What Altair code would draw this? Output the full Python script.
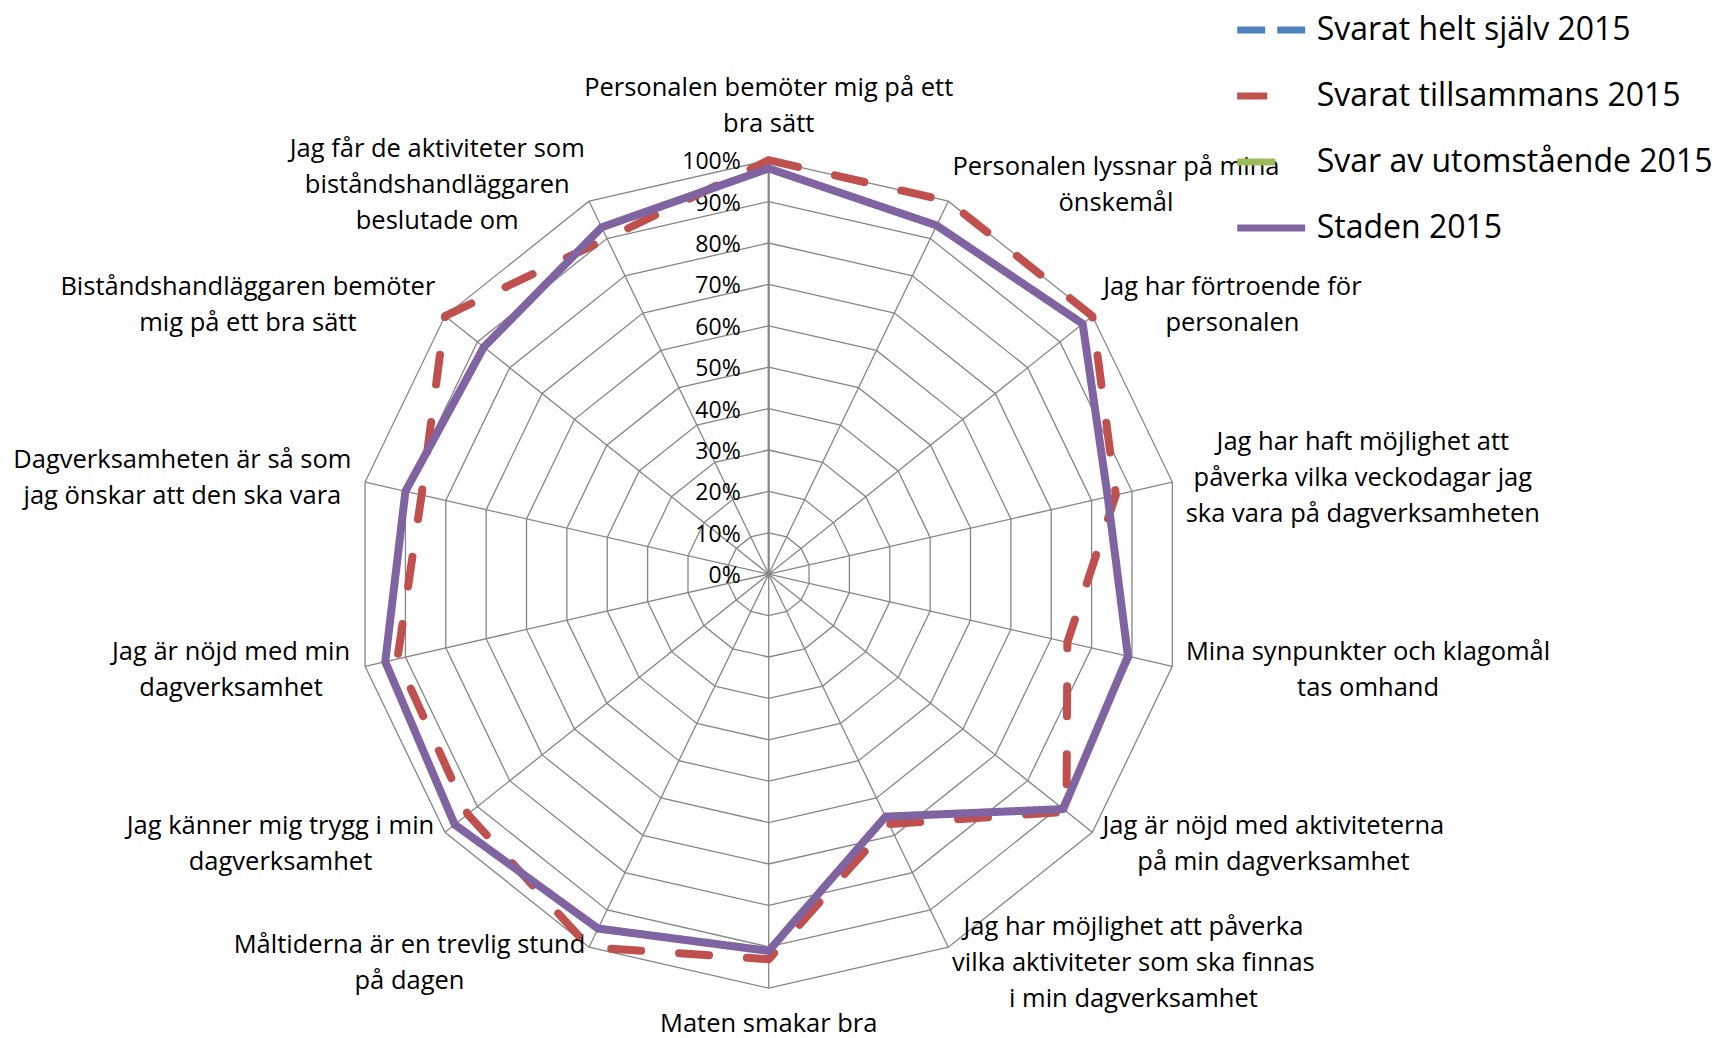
import math
import altair as alt
import pandas as pd

# ---------------- data ----------------
categories = [
    ["Personalen bemöter mig på ett", "bra sätt"],
    ["Personalen lyssnar på mina", "önskemål"],
    ["Jag har förtroende för", "personalen"],
    ["Jag har haft möjlighet att", "påverka vilka veckodagar jag", "ska vara på dagverksamheten"],
    ["Mina synpunkter och klagomål", "tas omhand"],
    ["Jag är nöjd med aktiviteterna", "på min dagverksamhet"],
    ["Jag har möjlighet att påverka", "vilka aktiviteter som ska finnas", "i min dagverksamhet"],
    ["Maten smakar bra"],
    ["Måltiderna är en trevlig stund", "på dagen"],
    ["Jag känner mig trygg i min", "dagverksamhet"],
    ["Jag är nöjd med min", "dagverksamhet"],
    ["Dagverksamheten är så som", "jag önskar att den ska vara"],
    ["Biståndshandläggaren bemöter", "mig på ett bra sätt"],
    ["Jag får de aktiviteter som", "biståndshandläggaren", "beslutade om"],
]
series_names = ["Svarat helt själv 2015", "Svarat tillsammans 2015",
                "Svar av utomstående 2015", "Staden 2015"]
series_colors = ["#4F81BD", "#C0504D", "#9BBB59", "#8064A2"]
series_dashes = [[28, 12], [30, 38], [38, 40], [1, 0]]

svarat_tillsammans = [100, 100, 100, 86, 74, 92, 67, 93, 100, 93, 92, 86, 100, 90]
staden = [98, 93.5, 97, 84, 89, 91, 65, 91, 95, 97, 95, 90, 88, 93]

tick_values = [0, 10, 20, 30, 40, 50, 60, 70, 80, 90, 100]

# ---------------- layout ----------------
N = len(categories)
W, H = 1707, 1030
CX, CY = 760.7, 566.2      # centre of the radar inside the plot area (px)
R = 414.0                  # radius of the 100 % ring (px)
LABEL_FONT = "Open Sans"
LABEL_SIZE = 25.5
LINE_H = 36
GAP = 18

CW = {' ': 0.26, 'a': 0.556, 'å': 0.556, 'ä': 0.556, 'b': 0.613, 'c': 0.48,
      'd': 0.613, 'e': 0.561, 'f': 0.336, 'g': 0.546, 'h': 0.614, 'i': 0.258,
      'j': 0.258, 'k': 0.529, 'l': 0.258, 'm': 0.932, 'n': 0.614, 'o': 0.603,
      'ö': 0.603, 'p': 0.613, 'r': 0.408, 's': 0.477, 't': 0.353, 'u': 0.614,
      'v': 0.501, 'y': 0.501, 'B': 0.647, 'D': 0.729, 'J': 0.268, 'M': 0.907,
      'P': 0.603}


def text_w(s):
    return sum(CW.get(ch, 0.56) for ch in s) * LABEL_SIZE * 0.975


xdom = [-CX / R, (W - CX) / R]
ydom = [-(H - CY) / R, CY / R]
xs = alt.Scale(domain=xdom, nice=False, zero=False)
ys = alt.Scale(domain=ydom, nice=False, zero=False)

# series table (closed polygons)
rows = []
for name, vals in [(series_names[1], svarat_tillsammans), (series_names[3], staden)]:
    for k in range(N + 1):
        rows.append({"series": name, "idx": k, "value": vals[k % N]})
series_df = pd.DataFrame(rows)

# grid rings
ring_rows = [{"level": lv, "idx": k} for lv in tick_values[1:] for k in range(N + 1)]
ring_df = pd.DataFrame(ring_rows)
spoke_df = pd.DataFrame({"idx": list(range(N))})
tick_df = pd.DataFrame({"level": tick_values})

# category labels (block centre computed from the spoke direction)
lab_rows = []
for i, lines in enumerate(categories):
    th = 2 * math.pi * i / N
    s, c = math.sin(th), math.cos(th)
    ax = (R + GAP) * s
    ay = (R + GAP) * c
    w = max(text_w(l) for l in lines)
    h = len(lines) * LINE_H
    if abs(s) < 0.01:
        lx = ax
        ly = ay + (h / 2 if c > 0 else -h / 2)
    else:
        lx = ax + (w / 2 if s > 0 else -w / 2)
        ly = ay
    # vega puts the first line on the anchor: move anchor to the first line
    ly += (len(lines) - 1) * LINE_H / 2
    lab_rows.append({"label": "\n".join(lines), "lx": lx / R, "ly": ly / R})
lab_df = pd.DataFrame(lab_rows)

ANG = f"2*PI*datum.idx/{N}"

legend = alt.Legend(
    title=None, orient="none", legendX=1225.7, legendY=-15.5,
    symbolType="stroke", symbolSize=68 * 68, symbolStrokeWidth=7,
    labelFont=LABEL_FONT, labelFontSize=32, labelColor="black",
    labelLimit=0, labelOffset=8, rowPadding=12, padding=0,
)

rings = alt.Chart(ring_df).transform_calculate(
    gx=f"datum.level/100*sin({ANG})", gy=f"datum.level/100*cos({ANG})"
).mark_line(color="#868686", strokeWidth=1.3).encode(
    x=alt.X("gx:Q", scale=xs, axis=None),
    y=alt.Y("gy:Q", scale=ys, axis=None),
    detail="level:N",
    order="idx:Q",
)

spokes = alt.Chart(spoke_df).transform_calculate(
    sx=f"sin({ANG})", sy=f"cos({ANG})", zero="0"
).mark_rule(color="#868686").encode(
    x=alt.X("sx:Q", scale=xs, axis=None),
    y=alt.Y("sy:Q", scale=ys, axis=None),
    x2="zero:Q",
    y2="zero:Q",
    strokeWidth=alt.condition("datum.idx == 0", alt.value(2.2), alt.value(1.3)),
)

ticks = alt.Chart(tick_df).transform_calculate(
    tx="0", ty="datum.level/100", txt="datum.level + '%'"
).mark_text(align="right", baseline="middle", dx=-28, dy=2, font=LABEL_FONT,
            fontSize=23, color="black").encode(
    x=alt.X("tx:Q", scale=xs, axis=None),
    y=alt.Y("ty:Q", scale=ys, axis=None),
    text="txt:N",
)

labels = alt.Chart(lab_df).mark_text(
    align="center", baseline="middle", lineBreak="\n", lineHeight=LINE_H,
    font=LABEL_FONT, fontSize=LABEL_SIZE, color="black"
).encode(
    x=alt.X("lx:Q", scale=xs, axis=None),
    y=alt.Y("ly:Q", scale=ys, axis=None),
    text="label:N",
)


def series_layer(name):
    return alt.Chart(series_df).transform_filter(
        alt.datum.series == name
    ).transform_calculate(
        px=f"datum.value/100*sin({ANG})", py=f"datum.value/100*cos({ANG})"
    ).mark_line(strokeWidth=8, strokeCap="round", strokeJoin="round").encode(
        x=alt.X("px:Q", scale=xs, axis=None),
        y=alt.Y("py:Q", scale=ys, axis=None),
        order="idx:Q",
        color=alt.Color("series:N", scale=alt.Scale(domain=series_names, range=series_colors), legend=legend),
        strokeDash=alt.StrokeDash("series:N", scale=alt.Scale(domain=series_names, range=series_dashes), legend=legend),
    )


chart = alt.layer(
    rings, spokes, ticks, labels,
    series_layer(series_names[1]), series_layer(series_names[3]),
).properties(
    width=W, height=H, padding=0,
    autosize=alt.AutoSizeParams(type="none"),
    background="white",
).configure_view(stroke=None)

chart.save("out.html", embed_options={"renderer": "svg", "actions": False})
